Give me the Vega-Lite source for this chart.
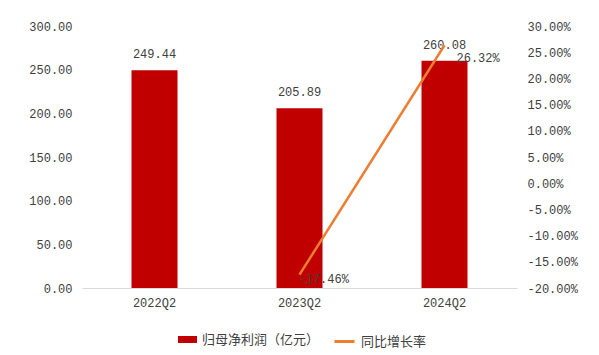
{
  "$schema": "https://vega.github.io/schema/vega-lite/v6.json",
  "width": 435,
  "height": 262,
  "autosize": {"type": "none"},
  "padding": {"left": 82, "top": 26, "right": 82, "bottom": 67},
  "config": {
    "view": {"stroke": null},
    "font": "Liberation Mono",
    "locale": {"number": {"decimal": ".", "thousands": ",", "grouping": [3], "currency": ["", ""], "minus": "-"}},
    "axis": {"labelFont": "Liberation Mono", "labelFontSize": 12, "labelColor": "#404040"},
    "legend": {"orient": "none", "labelFont": "Noto Sans CJK SC", "labelFontSize": 13, "labelColor": "#404040", "title": null, "padding": 0}
  },
  "data": {"values": [
    {"period": "2022Q2", "profit": 249.44, "growth": null},
    {"period": "2023Q2", "profit": 205.89, "growth": -0.1746},
    {"period": "2024Q2", "profit": 260.08, "growth": 0.2632}
  ]},
  "encoding": {
    "x": {"field": "period", "type": "nominal", "sort": null, "scale": {"paddingInner": 0, "paddingOuter": 0},
      "axis": {"title": null, "labelAngle": 0, "ticks": false, "domainColor": "#D9D9D9", "labelPadding": 9}}
  },
  "layer": [
    {
      "encoding": {
        "y": {"field": "profit", "type": "quantitative", "scale": {"domain": [0, 300]},
          "axis": {"title": null, "values": [0, 50, 100, 150, 200, 250, 300], "format": ".2f", "domain": false, "ticks": false, "grid": false, "labelPadding": 10}}
      },
      "layer": [
        {"mark": {"type": "bar", "width": 46},
          "encoding": {"color": {"datum": "归母净利润（亿元）", "scale": {"range": ["#C00000"]},
            "legend": {"symbolType": "M-1,-0.37H1V0.37H-1Z", "symbolSize": 361, "symbolStrokeWidth": 0, "legendX": 96, "legendY": 304, "labelOffset": 5}}}},
        {"mark": {"type": "text", "baseline": "bottom", "dy": -9, "fontSize": 12, "color": "#404040", "font": "Liberation Mono"},
          "encoding": {"text": {"field": "profit", "type": "quantitative", "format": ".2f"}}}
      ]
    },
    {
      "transform": [{"filter": "datum.growth != null"}],
      "encoding": {
        "y": {"field": "growth", "type": "quantitative", "scale": {"domain": [-0.2, 0.3]},
          "axis": {"title": null, "orient": "right", "values": [-0.2, -0.15, -0.1, -0.05, 0, 0.05, 0.1, 0.15, 0.2, 0.25, 0.3], "format": ".2%", "domain": false, "ticks": false, "grid": false, "labelPadding": 10}}
      },
      "layer": [
        {"mark": {"type": "line", "strokeWidth": 2.5},
          "encoding": {"stroke": {"datum": "同比增长率", "scale": {"range": ["#ED7D31"]},
            "legend": {"symbolType": "stroke", "symbolSize": 400, "symbolStrokeWidth": 3, "legendX": 251, "legendY": 304, "labelOffset": 5}}}},
        {"transform": [{"filter": "datum.period == '2023Q2'"}],
          "mark": {"type": "text", "align": "left", "baseline": "middle", "dx": -1, "dy": 4, "fontSize": 12, "color": "#404040", "font": "Liberation Mono"},
          "encoding": {"text": {"field": "growth", "type": "quantitative", "format": ".2%"}}},
        {"transform": [{"filter": "datum.period == '2024Q2'"}],
          "mark": {"type": "text", "align": "left", "baseline": "middle", "dx": 12, "dy": 13, "fontSize": 12, "color": "#404040", "font": "Liberation Mono"},
          "encoding": {"text": {"field": "growth", "type": "quantitative", "format": ".2%"}}}
      ]
    }
  ],
  "resolve": {"scale": {"y": "independent"}}
}
